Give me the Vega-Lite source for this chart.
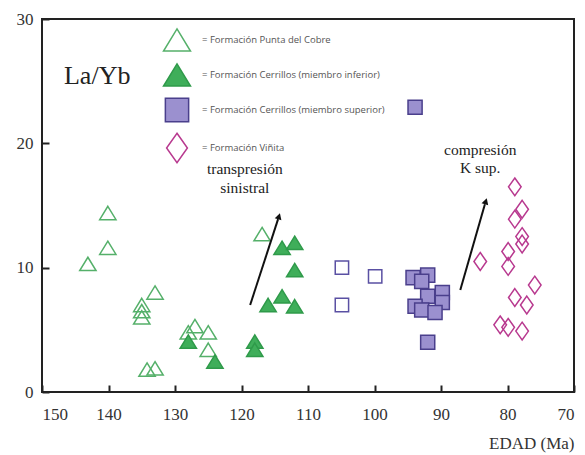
{
  "$schema": "https://vega.github.io/schema/vega-lite/v6.json",
  "width": 532,
  "height": 373,
  "autosize": "none",
  "padding": {"left": 42, "top": 19, "right": 11, "bottom": 63},
  "background": "white",
  "config": {
    "view": {"stroke": "#222", "strokeWidth": 2}
  },
  "datasets": {
    "pts": [
      {"grupo": "Formación Punta del Cobre", "edad": 140.1, "layb": 14.4},
      {"grupo": "Formación Punta del Cobre", "edad": 140.1, "layb": 11.6},
      {"grupo": "Formación Punta del Cobre", "edad": 143.1, "layb": 10.3},
      {"grupo": "Formación Punta del Cobre", "edad": 133.0, "layb": 8.0},
      {"grupo": "Formación Punta del Cobre", "edad": 135.0, "layb": 7.0},
      {"grupo": "Formación Punta del Cobre", "edad": 135.0, "layb": 6.5},
      {"grupo": "Formación Punta del Cobre", "edad": 135.0, "layb": 6.0},
      {"grupo": "Formación Punta del Cobre", "edad": 128.0, "layb": 4.8},
      {"grupo": "Formación Punta del Cobre", "edad": 127.0, "layb": 5.3},
      {"grupo": "Formación Punta del Cobre", "edad": 125.0, "layb": 4.8},
      {"grupo": "Formación Punta del Cobre", "edad": 125.0, "layb": 3.4},
      {"grupo": "Formación Punta del Cobre", "edad": 134.2, "layb": 1.8},
      {"grupo": "Formación Punta del Cobre", "edad": 133.0, "layb": 1.9},
      {"grupo": "Formación Punta del Cobre", "edad": 116.9, "layb": 12.7},
      {"grupo": "Formación Cerrillos (miembro inferior)", "edad": 128.0, "layb": 4.05},
      {"grupo": "Formación Cerrillos (miembro inferior)", "edad": 124.0, "layb": 2.45},
      {"grupo": "Formación Cerrillos (miembro inferior)", "edad": 118.0, "layb": 4.05},
      {"grupo": "Formación Cerrillos (miembro inferior)", "edad": 118.0, "layb": 3.4},
      {"grupo": "Formación Cerrillos (miembro inferior)", "edad": 113.9, "layb": 11.6},
      {"grupo": "Formación Cerrillos (miembro inferior)", "edad": 112.0, "layb": 12.0},
      {"grupo": "Formación Cerrillos (miembro inferior)", "edad": 112.0, "layb": 9.8},
      {"grupo": "Formación Cerrillos (miembro inferior)", "edad": 113.9, "layb": 7.7},
      {"grupo": "Formación Cerrillos (miembro inferior)", "edad": 116.0, "layb": 7.0},
      {"grupo": "Formación Cerrillos (miembro inferior)", "edad": 112.0, "layb": 6.9},
      {"grupo": "Cerrillos (sin relleno)", "edad": 104.9, "layb": 10.0},
      {"grupo": "Cerrillos (sin relleno)", "edad": 104.9, "layb": 7.0},
      {"grupo": "Cerrillos (sin relleno)", "edad": 99.9, "layb": 9.3},
      {"grupo": "Formación Cerrillos (miembro superior)", "edad": 94.2, "layb": 9.2},
      {"grupo": "Formación Cerrillos (miembro superior)", "edad": 92.0, "layb": 9.4},
      {"grupo": "Formación Cerrillos (miembro superior)", "edad": 92.9, "layb": 8.9},
      {"grupo": "Formación Cerrillos (miembro superior)", "edad": 92.0, "layb": 7.7},
      {"grupo": "Formación Cerrillos (miembro superior)", "edad": 89.8, "layb": 8.0},
      {"grupo": "Formación Cerrillos (miembro superior)", "edad": 89.8, "layb": 7.2},
      {"grupo": "Formación Cerrillos (miembro superior)", "edad": 93.9, "layb": 6.9},
      {"grupo": "Formación Cerrillos (miembro superior)", "edad": 92.9, "layb": 6.6},
      {"grupo": "Formación Cerrillos (miembro superior)", "edad": 90.9, "layb": 6.4},
      {"grupo": "Formación Cerrillos (miembro superior)", "edad": 92.0, "layb": 4.0},
      {"grupo": "Formación Cerrillos (miembro superior)", "edad": 93.9, "layb": 22.9},
      {"grupo": "Formación Viñita", "edad": 78.9, "layb": 16.5},
      {"grupo": "Formación Viñita", "edad": 77.8, "layb": 14.7},
      {"grupo": "Formación Viñita", "edad": 78.9, "layb": 13.9},
      {"grupo": "Formación Viñita", "edad": 77.8, "layb": 12.5},
      {"grupo": "Formación Viñita", "edad": 77.8, "layb": 11.9},
      {"grupo": "Formación Viñita", "edad": 79.9, "layb": 11.3},
      {"grupo": "Formación Viñita", "edad": 84.1, "layb": 10.5},
      {"grupo": "Formación Viñita", "edad": 79.9, "layb": 10.1},
      {"grupo": "Formación Viñita", "edad": 75.9, "layb": 8.6},
      {"grupo": "Formación Viñita", "edad": 78.9, "layb": 7.6},
      {"grupo": "Formación Viñita", "edad": 77.1, "layb": 7.0},
      {"grupo": "Formación Viñita", "edad": 81.1, "layb": 5.4},
      {"grupo": "Formación Viñita", "edad": 79.9, "layb": 5.2},
      {"grupo": "Formación Viñita", "edad": 77.8, "layb": 4.9}
    ],
    "flechas": [
      {"edad": 118.7, "layb": 7.0, "edad2": 114.5, "layb2": 13.9},
      {"edad": 87.1, "layb": 8.2, "edad2": 83.4, "layb2": 15.1}
    ],
    "textos": [
      {"edad": 119.5, "layb": 17.9, "texto": "transpresión"},
      {"edad": 119.5, "layb": 16.4, "texto": "sinistral"},
      {"edad": 84.1, "layb": 19.5, "texto": "compresión"},
      {"edad": 84.1, "layb": 18.0, "texto": "K sup."}
    ],
    "titulo": [
      {"edad": 141.7, "layb": 25.4, "texto": "La/Yb"}
    ]
  },
  "layer": [
    {
      "data": {"name": "pts"},
      "mark": {"type": "point", "strokeWidth": 1.5, "opacity": 1, "size": 220},
      "encoding": {
        "x": {
          "field": "edad", "type": "quantitative",
          "scale": {"domain": [70, 150], "reverse": true, "nice": false, "zero": false},
          "axis": {"orient": "bottom", "values": [150, 140, 130, 120, 110, 100, 90, 80, 70], "ticks": true, "tickSize": -7, "tickColor": "#222222", "tickWidth": 2, "domain": false, "grid": false, "labelPadding": 21, "labelFont": "Liberation Serif", "labelFontSize": 17, "labelColor": "#333333", "title": "EDAD (Ma)", "titleAnchor": "start", "titleAlign": "right", "titleFont": "Liberation Serif", "titleFontSize": 17, "titleFontWeight": "normal", "titleColor": "#333333", "titlePadding": 13}
        },
        "y": {
          "field": "layb", "type": "quantitative",
          "scale": {"domain": [0, 30], "nice": false},
          "axis": {"orient": "left", "values": [0, 10, 20, 30], "ticks": true, "tickSize": -7, "tickColor": "#222222", "tickWidth": 2, "domain": false, "grid": false, "labelPadding": 16, "labelFont": "Liberation Serif", "labelFontSize": 17, "labelColor": "#333333", "title": null}
        },
        "shape": {
          "field": "grupo", "type": "nominal",
          "scale": {
            "domain": ["Formación Punta del Cobre", "Formación Cerrillos (miembro inferior)", "Formación Cerrillos (miembro superior)", "Formación Viñita", "Cerrillos (sin relleno)"],
            "range": ["M0,-0.9L1.1,0.9L-1.1,0.9Z", "M0,-0.9L1.1,0.9L-1.1,0.9Z", "M-0.95,-0.95L0.95,-0.95L0.95,0.95L-0.95,0.95Z", "M0,-1.2L0.85,0L0,1.2L-0.85,0Z", "M-0.9,-0.9L0.9,-0.9L0.9,0.9L-0.9,0.9Z"]
          },
          "legend": {"orient": "none", "legendX": 122, "legendY": 8, "title": null, "symbolSize": 600, "symbolStrokeWidth": 1.5, "labelFont": "Open Sans", "labelFontSize": 9.5, "labelColor": "#555", "labelOffset": 12, "labelLimit": 400, "rowPadding": 5, "padding": 0, "values": ["Formación Punta del Cobre", "Formación Cerrillos (miembro inferior)", "Formación Cerrillos (miembro superior)", "Formación Viñita"], "labelExpr": "'= ' + datum.label"}
        },
        "stroke": {
          "field": "grupo", "type": "nominal",
          "scale": {
            "domain": ["Formación Punta del Cobre", "Formación Cerrillos (miembro inferior)", "Formación Cerrillos (miembro superior)", "Formación Viñita", "Cerrillos (sin relleno)"],
            "range": ["#55b06a", "#2f9a4a", "#4a3f8c", "#b8398f", "#5a50a3"]
          },
          "legend": {"orient": "none", "legendX": 122, "legendY": 8, "title": null, "symbolSize": 600, "symbolStrokeWidth": 1.5, "labelFont": "Open Sans", "labelFontSize": 9.5, "labelColor": "#555", "labelOffset": 12, "labelLimit": 400, "rowPadding": 5, "padding": 0, "values": ["Formación Punta del Cobre", "Formación Cerrillos (miembro inferior)", "Formación Cerrillos (miembro superior)", "Formación Viñita"], "labelExpr": "'= ' + datum.label"}
        },
        "fill": {
          "field": "grupo", "type": "nominal",
          "scale": {
            "domain": ["Formación Punta del Cobre", "Formación Cerrillos (miembro inferior)", "Formación Cerrillos (miembro superior)", "Formación Viñita", "Cerrillos (sin relleno)"],
            "range": ["transparent", "#3fae5a", "#9b90cf", "transparent", "transparent"]
          },
          "legend": {"orient": "none", "legendX": 122, "legendY": 8, "title": null, "symbolSize": 600, "symbolStrokeWidth": 1.5, "labelFont": "Open Sans", "labelFontSize": 9.5, "labelColor": "#555", "labelOffset": 12, "labelLimit": 400, "rowPadding": 5, "padding": 0, "values": ["Formación Punta del Cobre", "Formación Cerrillos (miembro inferior)", "Formación Cerrillos (miembro superior)", "Formación Viñita"], "labelExpr": "'= ' + datum.label"}
        }
      }
    },
    {
      "data": {"name": "flechas"},
      "mark": {"type": "rule", "color": "#111", "strokeWidth": 2},
      "encoding": {
        "x": {"field": "edad", "type": "quantitative"},
        "y": {"field": "layb", "type": "quantitative"},
        "x2": {"field": "edad2"},
        "y2": {"field": "layb2"}
      }
    },
    {
      "data": {"name": "flechas"},
      "mark": {"type": "point", "shape": "M0,-2L1.1,0L-1.1,0Z", "filled": true, "color": "#111", "opacity": 1, "size": 40, "angle": 17},
      "encoding": {
        "x": {"field": "edad2", "type": "quantitative"},
        "y": {"field": "layb2", "type": "quantitative"}
      }
    },
    {
      "data": {"name": "textos"},
      "mark": {"type": "text", "font": "Liberation Serif", "fontSize": 15.5, "color": "#222", "align": "center", "baseline": "middle"},
      "encoding": {
        "x": {"field": "edad", "type": "quantitative"},
        "y": {"field": "layb", "type": "quantitative"},
        "text": {"field": "texto"}
      }
    },
    {
      "data": {"name": "titulo"},
      "mark": {"type": "text", "font": "Liberation Serif", "fontSize": 26, "color": "#222", "align": "center", "baseline": "middle"},
      "encoding": {
        "x": {"field": "edad", "type": "quantitative"},
        "y": {"field": "layb", "type": "quantitative"},
        "text": {"field": "texto"}
      }
    }
  ]
}
